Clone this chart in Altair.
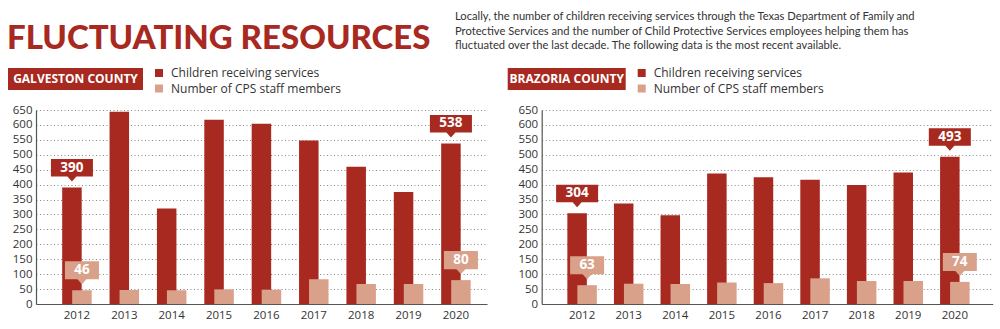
import altair as alt
import pandas as pd

years = ["2012", "2013", "2014", "2015", "2016", "2017", "2018", "2019", "2020"]
galv_children = [390, 644, 320, 617, 604, 548, 460, 375, 538]
galv_staff = [46, 47, 46, 49, 48, 83, 67, 67, 80]
braz_children = [304, 337, 297, 437, 425, 416, 399, 441, 493]
braz_staff = [63, 68, 67, 72, 70, 86, 77, 77, 74]
callout_years = ["2012", "2020"]
series_names = ["Children receiving services", "Number of CPS staff members"]
title_text = "FLUCTUATING RESOURCES"
desc_lines = [
    "Locally, the number of children receiving services through the Texas Department of Family and",
    "Protective Services and the number of Child Protective Services employees helping them has",
    "fluctuated over the last decade. The following data is the most recent available.",
]

RED = "#A8291F"
PINK = "#D9A08A"
TXT = "#333333"
FONT = "Open Sans"
TITLE_FONT = "Lato"


def callout_path(w, h, tw, th):
    k = w / 2.0
    hh = h / k
    a = tw / 2.0 / k
    t = th / k
    top = -(t + hh)
    return (f"M-1,{top:.3f} L1,{top:.3f} L1,{-t:.3f} L{a:.3f},{-t:.3f} L0,0 "
            f"L{-a:.3f},{-t:.3f} L-1,{-t:.3f} Z"), (w ** 2)


def panel(children, staff, county, box_x, box_w, po, al, extra=None):
    df = pd.DataFrame({"year": years, "children": children, "staff": staff})
    x = alt.X("year:N", sort=years,
              scale=alt.Scale(paddingInner=0, paddingOuter=po, align=al),
              axis=alt.Axis(title=None, labelAngle=0, ticks=False, grid=False,
                            domainColor="#555", domainWidth=1.2,
                            labelFont=FONT, labelFontSize=11.5, labelColor=TXT,
                            labelPadding=5))

    def yenc(f):
        return alt.Y(f"{f}:Q", scale=alt.Scale(domain=[0, 650], nice=False),
                     axis=alt.Axis(title=None, values=list(range(0, 651, 50)),
                                   ticks=False, grid=True, gridDash=[1, 2.5],
                                   gridColor="#888", gridWidth=1,
                                   domainColor="#555", domainWidth=1.2,
                                   labelFont=FONT, labelFontSize=11.5,
                                   labelColor=TXT, labelPadding=4))

    color = alt.Color("series:N",
                      scale=alt.Scale(domain=series_names, range=[RED, PINK]),
                      legend=alt.Legend(orient="none", legendX=box_x + box_w + 10,
                                        legendY=-43, title=None,
                                        symbolType="square", symbolSize=64,
                                        symbolStrokeWidth=0, symbolOpacity=1,
                                        labelFont=FONT, labelFontSize=12,
                                        labelColor=TXT, rowPadding=3.5,
                                        labelOffset=6, labelLimit=400))
    base = alt.Chart(df)
    red = base.transform_calculate(series=f"'{series_names[0]}'").mark_bar(
        width=19.5, xOffset=-5).encode(x=x, y=yenc("children"), color=color)
    pink = base.transform_calculate(series=f"'{series_names[1]}'").mark_bar(
        width=19.5, xOffset=5).encode(x=x, y=yenc("staff"), color=color)

    pred = alt.FieldOneOfPredicate(field="year", oneOf=callout_years)
    rpath, rsize = callout_path(42, 17.5, 9, 5)
    ppath, psize = callout_path(34, 18, 9, 5)
    rc = base.transform_filter(pred).mark_point(
        shape=rpath, size=rsize, filled=True, opacity=1, color=RED,
        strokeWidth=0, xOffset=-5, yOffset=-6).encode(x=x, y=yenc("children"))
    pc = base.transform_filter(pred).mark_point(
        shape=ppath, size=psize, filled=True, opacity=1, color=PINK,
        strokeWidth=0, xOffset=5, yOffset=-6).encode(x=x, y=yenc("staff"))
    rt = base.transform_filter(pred).mark_text(
        color="white", font=FONT, fontWeight="bold", fontSize=13.5, dx=-5, dy=-20,
        baseline="middle").encode(x=x, y=yenc("children"), text="children:Q")
    pt = base.transform_filter(pred).mark_text(
        color="white", font=FONT, fontWeight="bold", fontSize=13.5, dx=5, dy=-20,
        baseline="middle").encode(x=x, y=yenc("staff"), text="staff:Q")

    hdr = alt.Chart(pd.DataFrame({"t": [county]}))
    box = hdr.mark_rect(color=RED).encode(
        x=alt.value(box_x), x2=alt.value(box_x + box_w),
        y=alt.value(-42), y2=alt.value(-20))
    boxt = hdr.mark_text(color="white", font=FONT, fontWeight="bold", fontSize=12,
                         align="center", baseline="middle").encode(
        x=alt.value(box_x + box_w / 2), y=alt.value(-31), text="t:N")

    layers = [red, pink, rc, pc, rt, pt, box, boxt]
    if extra:
        layers += extra
    return alt.layer(*layers).properties(width=451, height=194)


# header pieces (relative to left panel origin)
title = alt.Chart(pd.DataFrame({"t": [title_text]})).mark_text(
    color=RED, font=TITLE_FONT, fontWeight=900, fontSize=33, align="left",
    baseline="alphabetic").encode(x=alt.value(-29), y=alt.value(-61), text="t:N")
desc = alt.Chart(pd.DataFrame({"t": desc_lines, "i": [0, 1, 2]})).transform_calculate(
    yy="-90 + datum.i * 14.5").mark_text(
    color=TXT, font="Lato", fontSize=11.2, align="left", baseline="alphabetic").encode(
    x=alt.value(419), y=alt.Y("yy:Q", scale=None), text="t:N")
frame = alt.Chart(pd.DataFrame({"t": [0]})).mark_rect(opacity=0).encode(
    x=alt.value(-36), x2=alt.value(964), y=alt.value(-110), y2=alt.value(219))

left = panel(galv_children, galv_staff, "GALVESTON COUNTY", -28, 135, 0.26, 0.70,
             extra=[title, desc, frame])
right = panel(braz_children, braz_staff, "BRAZORIA COUNTY", -34, 118, 0.34, 0.54)

chart = alt.hconcat(left, right, spacing=54.7, bounds="flush").resolve_scale(
    color="independent").properties(padding=0).configure_view(stroke=None)

chart.save("out.html", embed_options={"renderer": "svg", "actions": False})
